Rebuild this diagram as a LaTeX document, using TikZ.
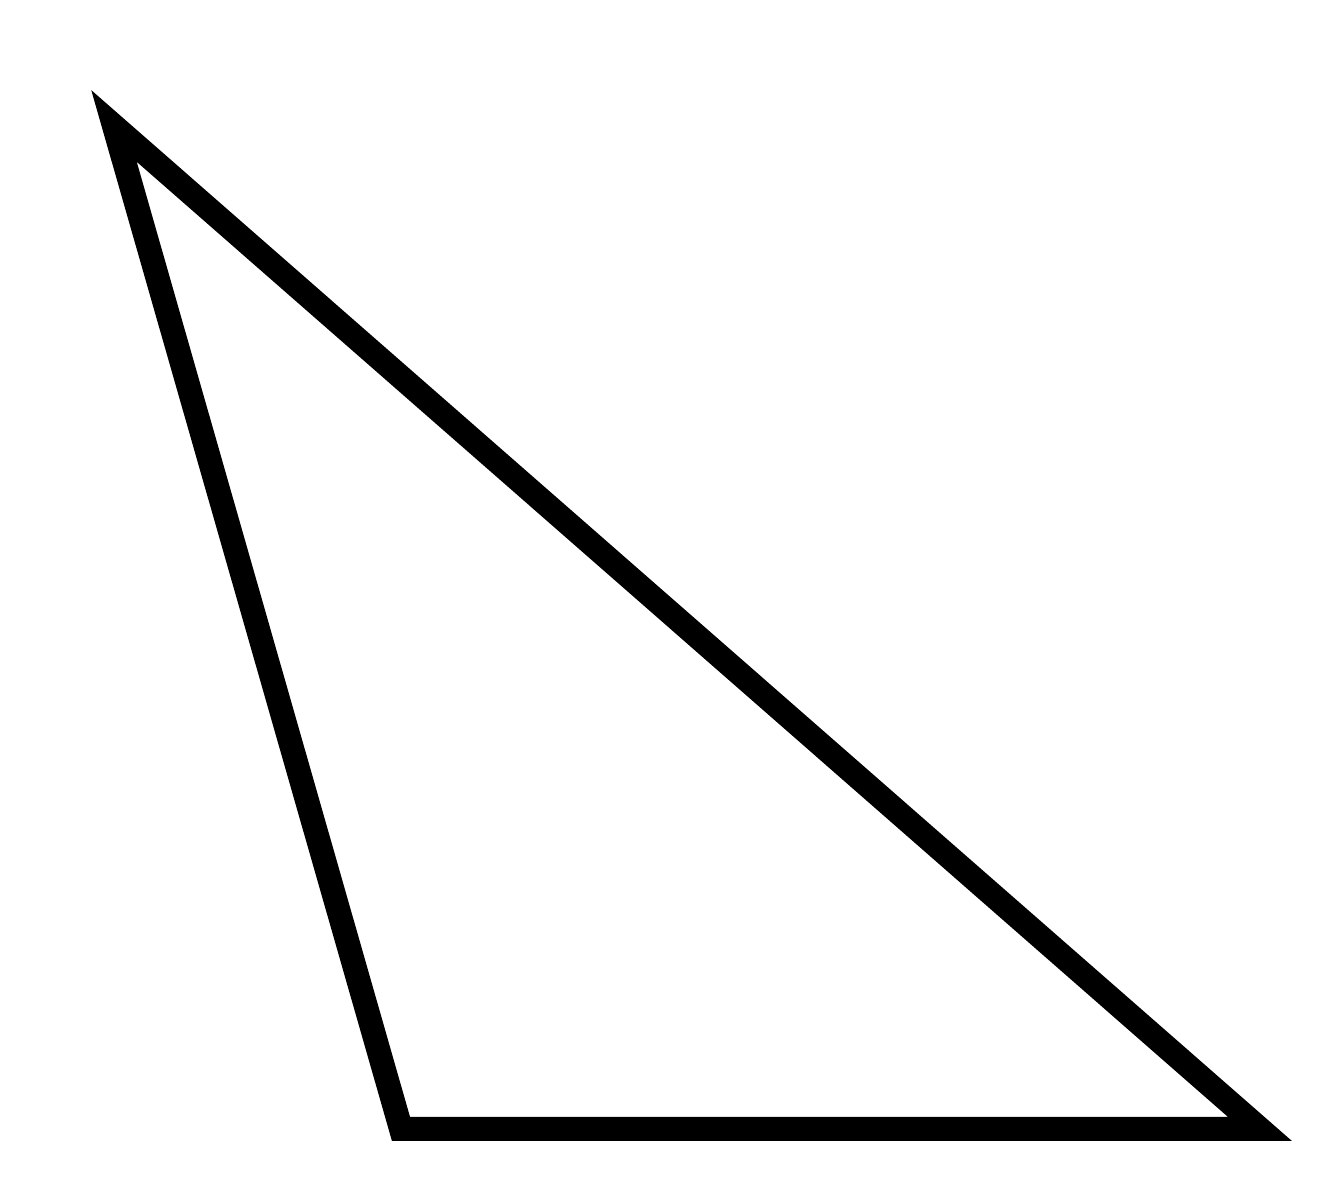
\documentclass[tikz,border=0pt]{standalone}
\begin{document}
\begin{tikzpicture}[scale = 1.0, every path/.style={line width=0.24cm, line join=miter}]
    \useasboundingbox (0,0) rectangle (13.44,12);
    \coordinate (v0) at (1.14, 10.74);
    \coordinate (v1) at (4.01, 0.71);
    \coordinate (v2) at (12.60, 0.71);
\draw (v0) -- (v1) -- (v2) -- cycle;
\end{tikzpicture}
\end{document}
